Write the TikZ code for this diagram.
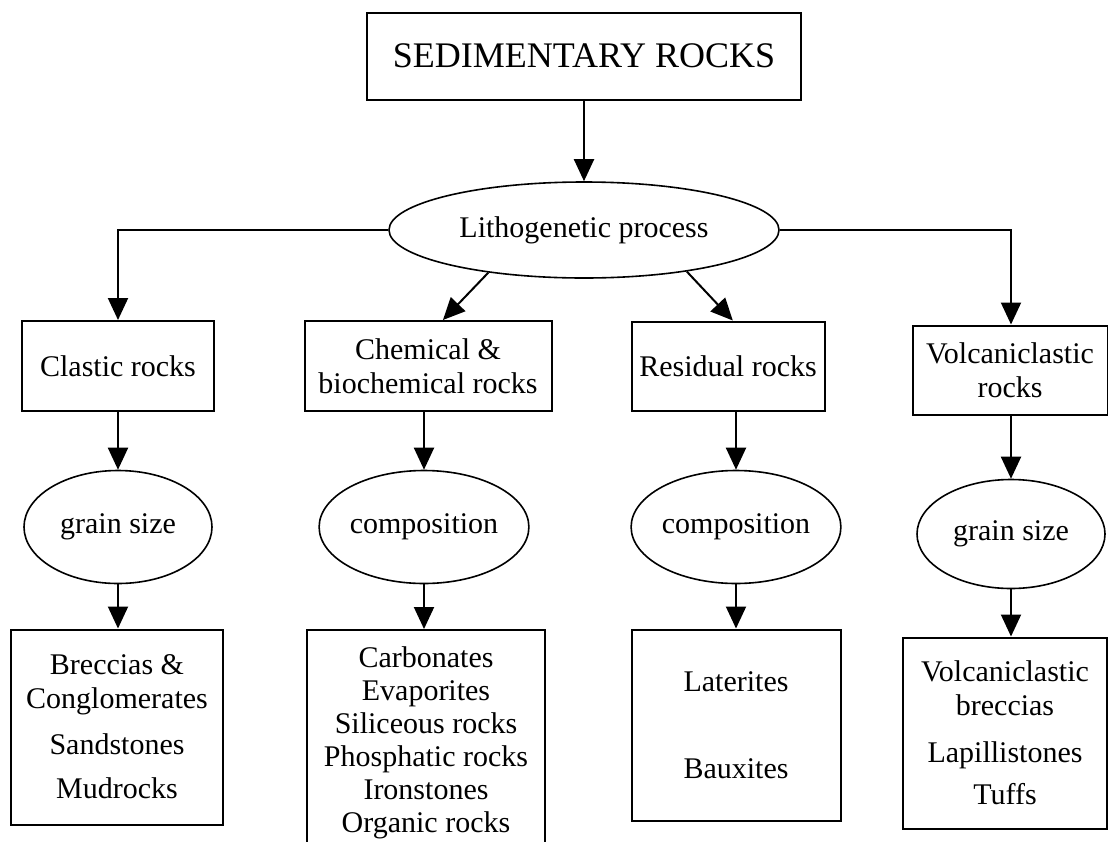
\documentclass[tikz,border=0pt]{standalone}
\usepackage{fontspec}
\setmainfont{Liberation Serif}
\usetikzlibrary{arrows.meta}
\usetikzlibrary{shapes.geometric}

\begin{document}
\begin{tikzpicture}[x=1pt,y=-1pt,
	box/.style={draw,line width=2pt,align=center,inner sep=0pt,font=\fontsize{30}{34}\selectfont},
	oval/.style={ellipse,draw,line width=1.6pt,inner sep=0pt,font=\fontsize{30}{34}\selectfont},
	arr/.style={line width=2pt,-{Triangle[length=22pt,width=20pt]}}]
			
			\clip (0,0) rectangle (1108,841);
			
			\node[box,minimum width=434pt,minimum height=87pt,font=\fontsize{36}{40}\selectfont] (S0) at (584,56) {SEDIMENTARY ROCKS};
			\node[oval,minimum width=390pt,minimum height=96pt] (P0) at (584,230) {Lithogenetic process};
			
			\draw[arr] (S0) -- (P0);
			
			\node[box,minimum width=192pt,minimum height=90pt] (B1) at (118,366) {Clastic rocks};
			\node[oval,minimum width=188pt,minimum height=113pt] (E1) at (118,527) {grain size};
			\node[box,minimum width=212pt,minimum height=195pt] (L1) at (117,727) {Breccias \&\\Conglomerates\\[12pt]Sandstones\\[10pt]Mudrocks};
			
			\draw[arr] (P0.west) -| (B1.north);
			\draw[arr] (B1) -- (E1);
			\draw[arr] (E1.south) -- (E1.south |- L1.north);
			
			\node[box,minimum width=247pt,minimum height=90pt] (B2) at (428,366) {Chemical \&\\biochemical rocks};
			\node[oval,minimum width=188pt,minimum height=113pt] (E2) at (424,527) {composition};
			\node[box,minimum width=238pt,minimum height=226pt,font=\fontsize{30}{33}\selectfont] (L2) at (426,743) {Carbonates\\Evaporites\\Siliceous rocks\\Phosphatic rocks\\Ironstones\\Organic rocks};
			
			\draw[arr] (P0.204) -- (B2.72);
			\draw[arr] (E2.north |- B2.south) -- (E2.north);
			\draw[arr] (E2.south) -- (E2.south |- L2.north);
			
			\node[box,minimum width=193pt,minimum height=89pt] (B3) at (728,366) {Residual rocks};
			\node[oval,minimum width=186pt,minimum height=113pt] (E3) at (736,527) {composition};
			\node[box,minimum width=209pt,minimum height=191pt] (L3) at (736,725) {Laterites\\[53pt]Bauxites};
			
			\draw[arr] (P0.338) -- (B3.84);
			\draw[arr] (E3.north |- B3.south) -- (E3.north);
			\draw[arr] (E3) -- (L3);
			
			\node[box,minimum width=195pt,minimum height=89pt] (B4) at (1010,370) {Volcaniclastic\\rocks};
			\node[oval,minimum width=188pt,minimum height=109pt] (E4) at (1011,534) {grain size};
			\node[box,minimum width=204pt,minimum height=191pt] (L4) at (1005,733) {Volcaniclastic\\breccias\\[13pt]Lapillistones\\[8pt]Tuffs};
			
			\draw[arr] (P0.east) -| (E4.north |- B4.north);
			\draw[arr] (E4.north |- B4.south) -- (E4.north);
			\draw[arr] (E4.south) -- (E4.south |- L4.north);
			
		\end{tikzpicture}
\end{document}
